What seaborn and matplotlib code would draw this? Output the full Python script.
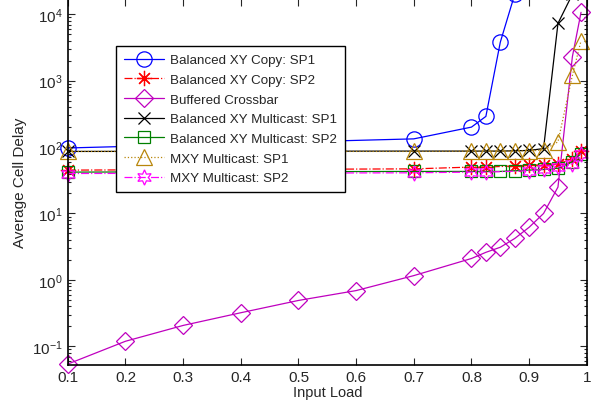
import numpy as np
import pandas as pd
import matplotlib
matplotlib.use('Agg')
import matplotlib.pyplot as plt
from matplotlib.ticker import FixedLocator, FixedFormatter, LogLocator
import seaborn as sns

# data
load_buffered = [0.1, 0.2, 0.3, 0.4, 0.5, 0.6, 0.7, 0.8, 0.825, 0.85, 0.875, 0.9, 0.925, 0.95, 0.975, 0.99]
delay_buffered = [0.054, 0.119, 0.206, 0.32, 0.49, 0.69, 1.16, 2.1, 2.6, 3.1, 4.2, 6.2, 10, 25, 2300, 10700]

load_copy_sp1 = [0.1, 0.7, 0.8, 0.825, 0.85, 0.875]
delay_copy_sp1 = [97, 133, 200, 290, 3800, 20000]

load_copy_sp2 = [0.1, 0.7, 0.8, 0.825, 0.875, 0.9, 0.925, 0.95, 0.975, 0.99]
delay_copy_sp2 = [45, 47, 50, 50, 52, 53, 54, 56, 66, 88]

load_multi_sp1 = [0.1, 0.7, 0.8, 0.825, 0.85, 0.875, 0.9, 0.925, 0.95, 0.975]
delay_multi_sp1 = [86, 87, 87, 87, 87, 88, 89, 95, 7300, 20000]

load_multi_sp2 = [0.1, 0.7, 0.8, 0.825, 0.85, 0.875, 0.9, 0.925, 0.95, 0.975, 0.99]
delay_multi_sp2 = [42, 43, 43, 43, 43, 44, 45, 46, 48, 60, 80]

load_mxy_sp1 = [0.1, 0.7, 0.8, 0.825, 0.85, 0.875, 0.9, 0.925, 0.95, 0.975, 0.99]
delay_mxy_sp1 = [86, 86, 87, 87, 87, 87, 88, 90, 120, 1200, 4000]

load_mxy_sp2 = [0.1, 0.7, 0.8, 0.825, 0.9, 0.925, 0.95, 0.975, 0.99]
delay_mxy_sp2 = [40, 41, 42, 42, 44, 46, 50, 56, 80]

series = [
    ('Balanced XY Copy: SP1', load_copy_sp1, delay_copy_sp1, '#0000ff', '-', 'o', 11),
    ('Balanced XY Copy: SP2', load_copy_sp2, delay_copy_sp2, '#ff0000', '-.', (8, 2, 0), 11),
    ('Buffered Crossbar', load_buffered, delay_buffered, '#bf00bf', '-', 'D', 9),
    ('Balanced XY Multicast: SP1', load_multi_sp1, delay_multi_sp1, '#000000', '-', 'x', 8),
    ('Balanced XY Multicast: SP2', load_multi_sp2, delay_multi_sp2, '#008000', '-', 's', 9),
    ('MXY Multicast: SP1', load_mxy_sp1, delay_mxy_sp1, '#b8860b', ':', '^', 12),
    ('MXY Multicast: SP2', load_mxy_sp2, delay_mxy_sp2, '#ff00ff', '-.', (6, 1, 0), 11),
]

sns.set_style('ticks')
plt.rcParams['font.family'] = ['Liberation Sans', 'DejaVu Sans']
plt.rcParams['mathtext.fontset'] = 'custom'
plt.rcParams['mathtext.rm'] = 'Liberation Sans'

fig = plt.figure(figsize=(6, 4.1), dpi=100)
ax = fig.add_axes([0.113, 0.107, 0.865, 0.893])

for name, x, y, color, ls, marker, ms in series:
    df = pd.DataFrame({'load': x, 'delay': y})
    sns.lineplot(data=df, x='load', y='delay', ax=ax, color=color, linestyle=ls,
                 marker=marker, markersize=ms, markerfacecolor='none',
                 markeredgecolor=color, markeredgewidth=0.9, linewidth=0.9,
                 label=name, sort=False, clip_on=False)

ax.set_yscale('log')
ax.set_xlim(0.1, 1.0)
ax.set_ylim(0.052, 1.7e4)

xt = [0.1, 0.2, 0.3, 0.4, 0.5, 0.6, 0.7, 0.8, 0.9, 1.0]
ax.xaxis.set_major_locator(FixedLocator(xt))
ax.xaxis.set_major_formatter(FixedFormatter(['0.1', '0.2', '0.3', '0.4', '0.5', '0.6', '0.7', '0.8', '0.9', '1']))
ax.yaxis.set_major_locator(LogLocator(base=10, numticks=10))
ax.yaxis.set_minor_locator(LogLocator(base=10, subs=np.arange(2, 10), numticks=10))

ax.tick_params(which='both', direction='in', top=True, right=True, labelsize=11, width=0.8)
ax.tick_params(which='major', length=5)
ax.tick_params(which='minor', length=2.5)
for s in ax.spines.values():
    s.set_linewidth(1.2)
    s.set_color('black')

ax.set_xlabel('Input Load', fontsize=10.5, labelpad=1)
ax.set_ylabel('Average Cell Delay', fontsize=11, labelpad=4)

leg = ax.legend(loc='upper left', bbox_to_anchor=(0.092, 0.872), fontsize=9.6,
                frameon=True, fancybox=False, edgecolor='black', framealpha=1,
                handlelength=3.0, labelspacing=0.55, borderpad=0.6, handletextpad=0.45,
                borderaxespad=0)
leg.get_frame().set_linewidth(1.0)

fig.savefig('out.png', dpi=100)
